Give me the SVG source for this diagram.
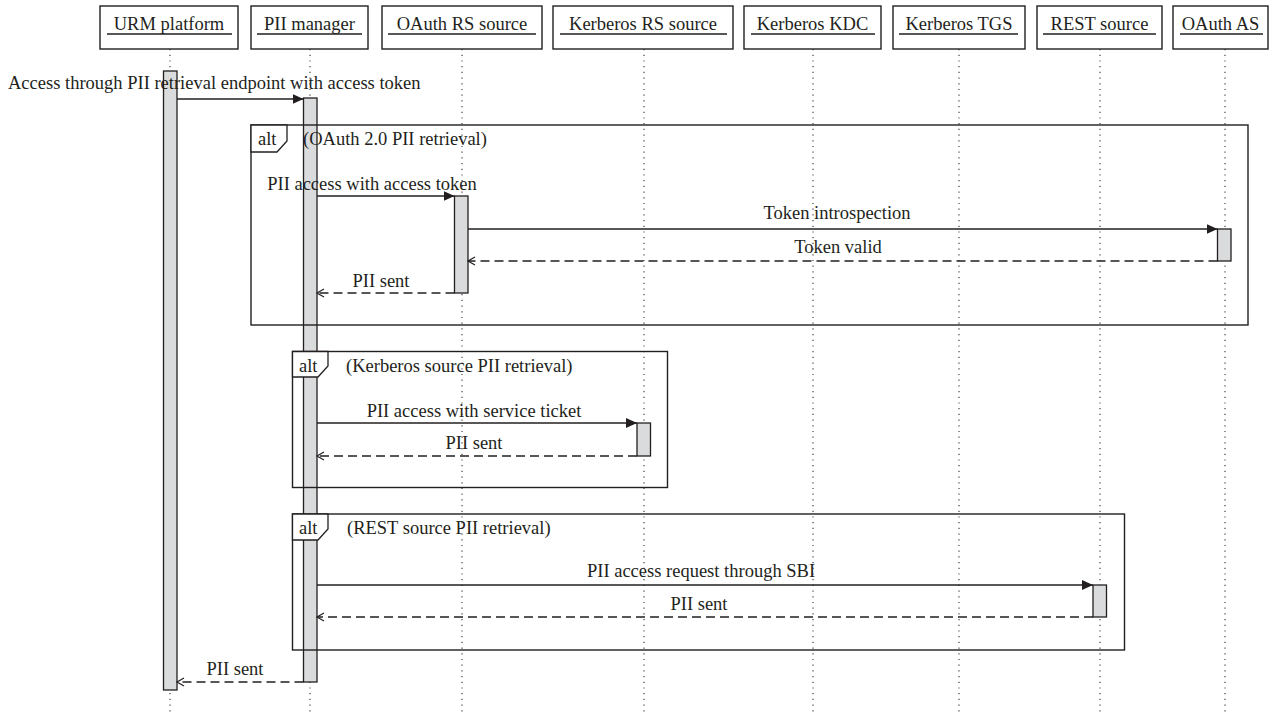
<svg xmlns="http://www.w3.org/2000/svg" width="1274" height="712" viewBox="0 0 1274 712">
<defs>
<marker id="filled" markerWidth="12" markerHeight="10" refX="11" refY="5" orient="auto" markerUnits="userSpaceOnUse">
<path d="M0,0 L11,5 L0,10 Z" fill="#231f20"/>
</marker>
<marker id="open" markerWidth="10" markerHeight="10" refX="8" refY="5" orient="auto" markerUnits="userSpaceOnUse">
<path d="M1,1 L8,5 L1,9" fill="none" stroke="#231f20" stroke-width="1.2"/>
</marker>
</defs>
<style>
text{font-family:"Liberation Serif","Times New Roman",serif;font-size:18.5px;fill:#231f20}
.mid{text-anchor:middle}
.box{fill:#fff;stroke:#231f20;stroke-width:1.4}
.ul{stroke:#231f20;stroke-width:1.3}
.life{stroke:#444;stroke-width:1.2;stroke-dasharray:1.2 4.5}
.act{fill:#dadbdc;stroke:#231f20;stroke-width:1.3}
.frame{fill:none;stroke:#231f20;stroke-width:1.4}
.tab{fill:#fff;stroke:#231f20;stroke-width:1.3}
.call{stroke:#231f20;stroke-width:1.3;fill:none;marker-end:url(#filled)}
.ret{stroke:#231f20;stroke-width:1.3;fill:none;stroke-dasharray:9 5;marker-end:url(#open)}
</style>
<rect width="1274" height="712" fill="#fff"/>

<g id="lifelines">
<line class="life" x1="170" y1="49" x2="170" y2="712"/>
<line class="life" x1="310" y1="49" x2="310" y2="712"/>
<line class="life" x1="462" y1="49" x2="462" y2="712"/>
<line class="life" x1="644" y1="49" x2="644" y2="712"/>
<line class="life" x1="813" y1="49" x2="813" y2="712"/>
<line class="life" x1="959" y1="49" x2="959" y2="712"/>
<line class="life" x1="1100" y1="49" x2="1100" y2="712"/>
<line class="life" x1="1225" y1="49" x2="1225" y2="712"/>
</g>

<g id="urm">
<rect class="box" x="100" y="6" width="138" height="43"/>
<text class="mid" x="169" y="30">URM platform</text>
<line class="ul" x1="107" y1="34" x2="232" y2="34"/>
<rect class="act" x="163.5" y="71" width="13.5" height="619"/>
</g>
<g id="pii">
<rect class="box" x="251" y="6" width="117" height="43"/>
<text class="mid" x="309.5" y="30">PII manager</text>
<line class="ul" x1="257" y1="34" x2="362" y2="34"/>
<rect class="act" x="303.5" y="98" width="13.5" height="584"/>
</g>
<g id="oauthrs">
<rect class="box" x="382" y="6" width="160" height="43"/>
<text class="mid" x="462" y="30">OAuth RS source</text>
<line class="ul" x1="388" y1="34" x2="536" y2="34"/>
<rect class="act" x="454.5" y="196" width="13.5" height="97"/>
</g>
<g id="kerbrs">
<rect class="box" x="553" y="6" width="180" height="43"/>
<text class="mid" x="643" y="30">Kerberos RS source</text>
<line class="ul" x1="560" y1="34" x2="727" y2="34"/>
<rect class="act" x="637" y="423" width="13.5" height="33"/>
</g>
<g id="kdc">
<rect class="box" x="744" y="6" width="137" height="43"/>
<text class="mid" x="812.5" y="30">Kerberos KDC</text>
<line class="ul" x1="751" y1="34" x2="875" y2="34"/>
</g>
<g id="tgs">
<rect class="box" x="893" y="6" width="132" height="43"/>
<text class="mid" x="959" y="30">Kerberos TGS</text>
<line class="ul" x1="899" y1="34" x2="1018" y2="34"/>
</g>
<g id="rest">
<rect class="box" x="1037" y="6" width="125" height="43"/>
<text class="mid" x="1099.5" y="30">REST source</text>
<line class="ul" x1="1043" y1="34" x2="1156" y2="34"/>
<rect class="act" x="1093" y="585" width="13.5" height="32"/>
</g>
<g id="oauthas">
<rect class="box" x="1173" y="6" width="95" height="43"/>
<text class="mid" x="1220.5" y="30">OAuth AS</text>
<line class="ul" x1="1180" y1="34" x2="1263" y2="34"/>
<rect class="act" x="1217.5" y="229" width="13.5" height="32"/>
</g>

<g id="alt-oauth">
<rect class="frame" x="251" y="125" width="997" height="200"/>
<path class="tab" d="M251,125 H287 V141 L277,152 H251 Z"/>
<text x="258" y="145">alt</text>
<text x="303" y="145">(OAuth 2.0 PII retrieval)</text>
</g>
<g id="alt-kerberos">
<rect class="frame" x="292.5" y="351.5" width="375" height="136"/>
<path class="tab" d="M292.5,351.5 H328 V366 L318,377 H292.5 Z"/>
<text x="299" y="372">alt</text>
<text x="346" y="372">(Kerberos source PII retrieval)</text>
</g>
<g id="alt-rest">
<rect class="frame" x="292.5" y="514" width="832" height="136"/>
<path class="tab" d="M292.5,514 H328 V529 L318,540 H292.5 Z"/>
<text x="299" y="534">alt</text>
<text x="347" y="534">(REST source PII retrieval)</text>
</g>

<g id="connectors">
<line class="call" x1="177" y1="99" x2="303.5" y2="99"/>
<text x="8" y="89">Access through PII retrieval endpoint with access token</text>

<line class="call" x1="317" y1="196" x2="454.5" y2="196"/>
<text class="mid" x="372" y="190">PII access with access token</text>

<line class="call" x1="468" y1="229" x2="1217.5" y2="229"/>
<text class="mid" x="837" y="219">Token introspection</text>

<line class="ret" x1="1217.5" y1="261" x2="468" y2="261"/>
<text class="mid" x="838" y="253">Token valid</text>

<line class="ret" x1="454.5" y1="293" x2="317" y2="293"/>
<text class="mid" x="381" y="287">PII sent</text>

<line class="call" x1="317" y1="423" x2="637" y2="423"/>
<text class="mid" x="474" y="417">PII access with service ticket</text>

<line class="ret" x1="637" y1="456" x2="317" y2="456"/>
<text class="mid" x="474" y="449">PII sent</text>

<line class="call" x1="317" y1="585" x2="1093" y2="585"/>
<text class="mid" x="701" y="577">PII access request through SBI</text>

<line class="ret" x1="1093" y1="617" x2="317" y2="617"/>
<text class="mid" x="699" y="610">PII sent</text>

<line class="ret" x1="303.5" y1="682" x2="177" y2="682"/>
<text class="mid" x="235" y="675">PII sent</text>
</g>
</svg>
